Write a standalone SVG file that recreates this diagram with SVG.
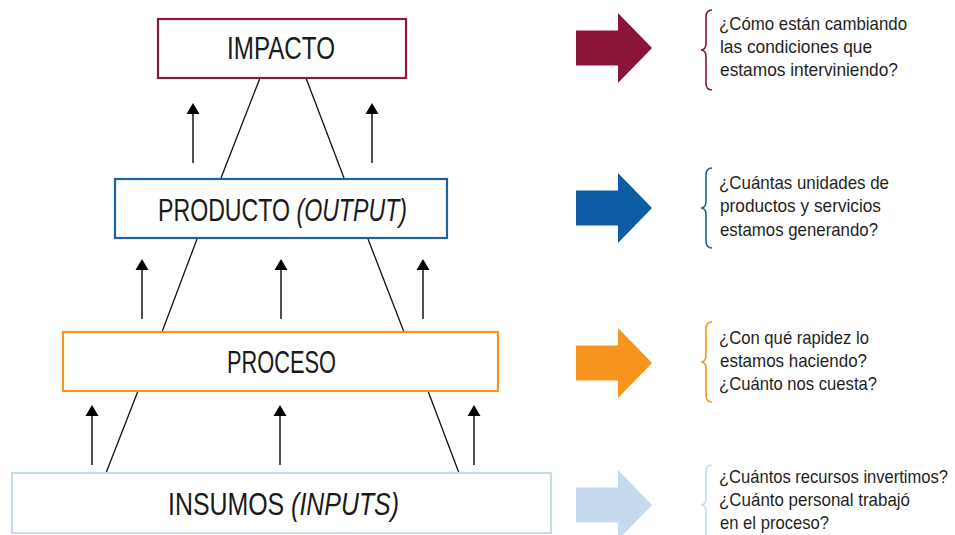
<svg xmlns="http://www.w3.org/2000/svg" xmlns:xlink="http://www.w3.org/1999/xlink" width="955" height="535" viewBox="0 0 955 535">
<style>
  .box { fill: #ffffff; stroke-width: 2.2; }
  .lbl { font-family: "Liberation Sans", Arial, sans-serif; font-size: 32px; fill: #1a1a1a; }
  .it { font-style: italic; }
  .q { font-family: "Liberation Sans", Arial, sans-serif; font-size: 19px; fill: #1f1f1f; }
  .diag { stroke: #111111; stroke-width: 1.3; fill: none; }
  .up { stroke: #222222; stroke-width: 1.6; fill: none; }
  .head { fill: #000000; }
  .brace { fill: none; stroke-width: 1.6; }
</style>
<defs>
  <path id="blk" d="M576,-17.5 H618 V-35 L652,0 L618,35 V17.5 H576 Z"/>
  <path id="brc" d="M712,-40 Q706,-40 706,-33 L706,-7 Q706,0 701,0 Q706,0 706,7 L706,33 Q706,40 712,40"/>
  <path id="uph" d="M0,0 L-6.5,11 L6.5,11 Z"/>
</defs>

<g id="connectors">
  <line class="diag" x1="260" y1="78" x2="221" y2="178"/>
  <line class="diag" x1="306" y1="78" x2="344" y2="178"/>
  <line class="diag" x1="197" y1="239" x2="162" y2="332"/>
  <line class="diag" x1="368" y1="239" x2="404" y2="332"/>
  <line class="diag" x1="138" y1="391" x2="106" y2="473"/>
  <line class="diag" x1="428" y1="391" x2="459" y2="473"/>

  <line class="up" x1="193" y1="163" x2="193" y2="112"/>
  <use href="#uph" class="head" x="193" y="103"/>
  <line class="up" x1="372" y1="163" x2="372" y2="112"/>
  <use href="#uph" class="head" x="372" y="103"/>

  <line class="up" x1="142" y1="319" x2="142" y2="268"/>
  <use href="#uph" class="head" x="142" y="259"/>
  <line class="up" x1="281" y1="319" x2="281" y2="268"/>
  <use href="#uph" class="head" x="281" y="259"/>
  <line class="up" x1="423" y1="319" x2="423" y2="268"/>
  <use href="#uph" class="head" x="423" y="259"/>

  <line class="up" x1="92" y1="465" x2="92" y2="414"/>
  <use href="#uph" class="head" x="92" y="405"/>
  <line class="up" x1="280" y1="465" x2="280" y2="414"/>
  <use href="#uph" class="head" x="280" y="405"/>
  <line class="up" x1="474" y1="465" x2="474" y2="414"/>
  <use href="#uph" class="head" x="474" y="405"/>
</g>

<g id="impacto">
  <rect class="box" x="158" y="19" width="248" height="59" stroke="#8C1A3C"/>
  <text class="lbl" x="227" y="59" textLength="108" lengthAdjust="spacingAndGlyphs">IMPACTO</text>
</g>
<g id="producto">
  <rect class="box" x="115" y="179" width="332" height="59" stroke="#1C63A5"/>
  <text class="lbl" x="158" y="221" textLength="249" lengthAdjust="spacingAndGlyphs">PRODUCTO <tspan class="it">(OUTPUT)</tspan></text>
</g>
<g id="proceso">
  <rect class="box" x="63" y="332" width="435" height="59" stroke="#F7941D"/>
  <text class="lbl" x="227" y="373" textLength="109" lengthAdjust="spacingAndGlyphs">PROCESO</text>
</g>
<g id="insumos">
  <rect class="box" x="12" y="473" width="539" height="60" stroke="#C6DAF0"/>
  <text class="lbl" x="168" y="515" textLength="231" lengthAdjust="spacingAndGlyphs">INSUMOS <tspan class="it">(INPUTS)</tspan></text>
</g>

<g id="q-impacto">
  <use href="#blk" y="48" fill="#8B1538"/>
  <use href="#brc" y="50" class="brace" stroke="#8B1538"/>
  <text class="q" x="719" y="30" textLength="188" lengthAdjust="spacingAndGlyphs">¿Cómo están cambiando</text>
  <text class="q" x="720" y="53" textLength="152" lengthAdjust="spacingAndGlyphs">las condiciones que</text>
  <text class="q" x="720" y="76" textLength="178" lengthAdjust="spacingAndGlyphs">estamos interviniendo?</text>
</g>
<g id="q-producto">
  <use href="#blk" y="208" fill="#0B5CA3"/>
  <use href="#brc" y="208" class="brace" stroke="#1C63A5"/>
  <text class="q" x="719" y="189" textLength="170" lengthAdjust="spacingAndGlyphs">¿Cuántas unidades de</text>
  <text class="q" x="720" y="212" textLength="161" lengthAdjust="spacingAndGlyphs">productos y servicios</text>
  <text class="q" x="720" y="236" textLength="158" lengthAdjust="spacingAndGlyphs">estamos generando?</text>
</g>
<g id="q-proceso">
  <use href="#blk" y="363" fill="#F7941D"/>
  <use href="#brc" y="362" class="brace" stroke="#F7941D"/>
  <text class="q" x="719" y="344" textLength="150" lengthAdjust="spacingAndGlyphs">¿Con qué rapidez lo</text>
  <text class="q" x="720" y="367" textLength="147" lengthAdjust="spacingAndGlyphs">estamos haciendo?</text>
  <text class="q" x="719" y="390" textLength="158" lengthAdjust="spacingAndGlyphs">¿Cuánto nos cuesta?</text>
</g>
<g id="q-insumos">
  <use href="#blk" y="505" fill="#C5D9EF"/>
  <use href="#brc" y="505" class="brace" stroke="#C6DAF0"/>
  <text class="q" x="719" y="483" textLength="229" lengthAdjust="spacingAndGlyphs">¿Cuántos recursos invertimos?</text>
  <text class="q" x="719" y="506" textLength="191" lengthAdjust="spacingAndGlyphs">¿Cuánto personal trabajó</text>
  <text class="q" x="720" y="529" textLength="109" lengthAdjust="spacingAndGlyphs">en el proceso?</text>
</g>
</svg>
